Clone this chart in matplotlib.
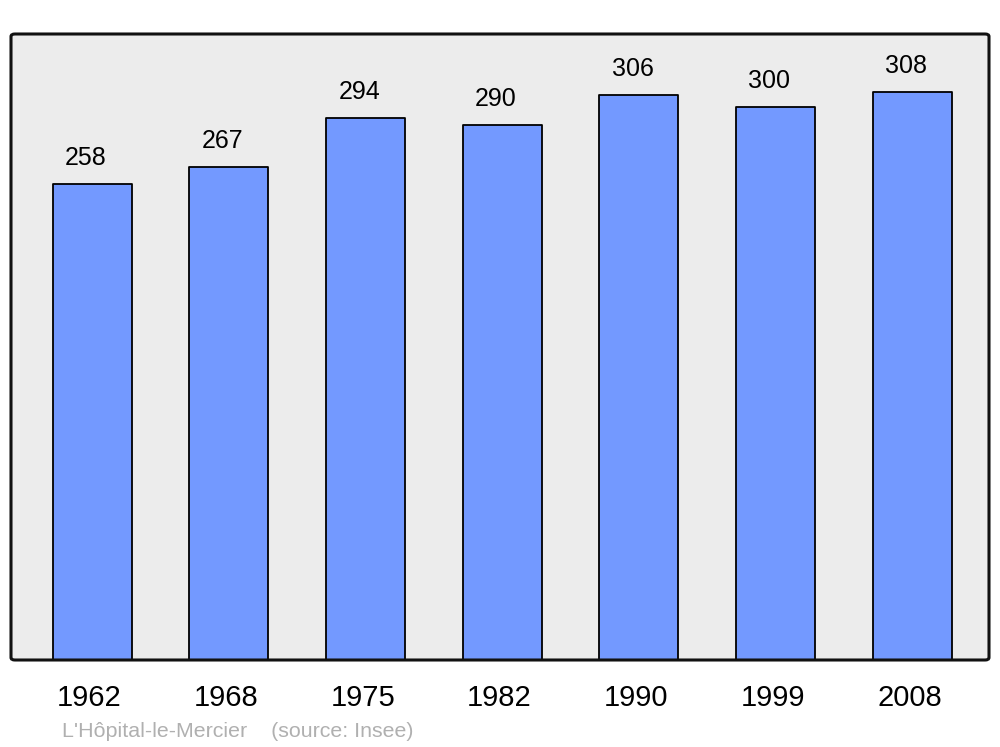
import matplotlib
matplotlib.use("Agg")
import matplotlib.pyplot as plt
from matplotlib.patches import FancyBboxPatch
from matplotlib.transforms import ScaledTranslation

years = ["1962", "1968", "1975", "1982", "1990", "1999", "2008"]
population = [258, 267, 294, 290, 306, 300, 308]
source_text = "L'Hôpital-le-Mercier    (source: Insee)"

plt.rcParams['font.family'] = ['Liberation Sans', 'DejaVu Sans']

W, H = 1000, 747
fig = plt.figure(figsize=(W / 100, H / 100), dpi=100)
ax = fig.add_axes([11 / W, (H - 660) / H, 978 / W, 626 / H])
ax.set_facecolor('#ececec')

xs = list(range(len(years)))
bars = ax.bar(xs, population, width=0.578, color='#7399ff', edgecolor='black',
              linewidth=1.3, zorder=2)
for b in bars:
    b.set_joinstyle('round')

for x, v in zip(xs, population):
    ax.annotate(str(v), (x, v), xytext=(-6, 19), textcoords='offset pixels',
                ha='center', va='baseline', fontsize=18, color='black')

ax.set_xlim(-0.593, 6.563)
ax.set_ylim(0, 339.3)
ax.set_yticks([])
ax.set_xticks(xs)
ax.set_xticklabels(years, fontsize=21)
ax.tick_params(axis='x', length=0, pad=17)
shift = ScaledTranslation(-2.5 / 100, 0, fig.dpi_scale_trans)
for lbl in ax.get_xticklabels():
    lbl.set_transform(lbl.get_transform() + shift)
for s in ax.spines.values():
    s.set_visible(False)

frame = FancyBboxPatch((0, 0), 1, 1, boxstyle='round,pad=0,rounding_size=0.004',
                       transform=ax.transAxes, facecolor='none', edgecolor='#111111',
                       linewidth=2.2, zorder=5, clip_on=False)
ax.add_patch(frame)

fig.text(62 / W, 1 - 737 / H, source_text, fontsize=15.4, color='#b0b0b0',
         ha='left', va='baseline')

fig.savefig('out.png', dpi=100)
